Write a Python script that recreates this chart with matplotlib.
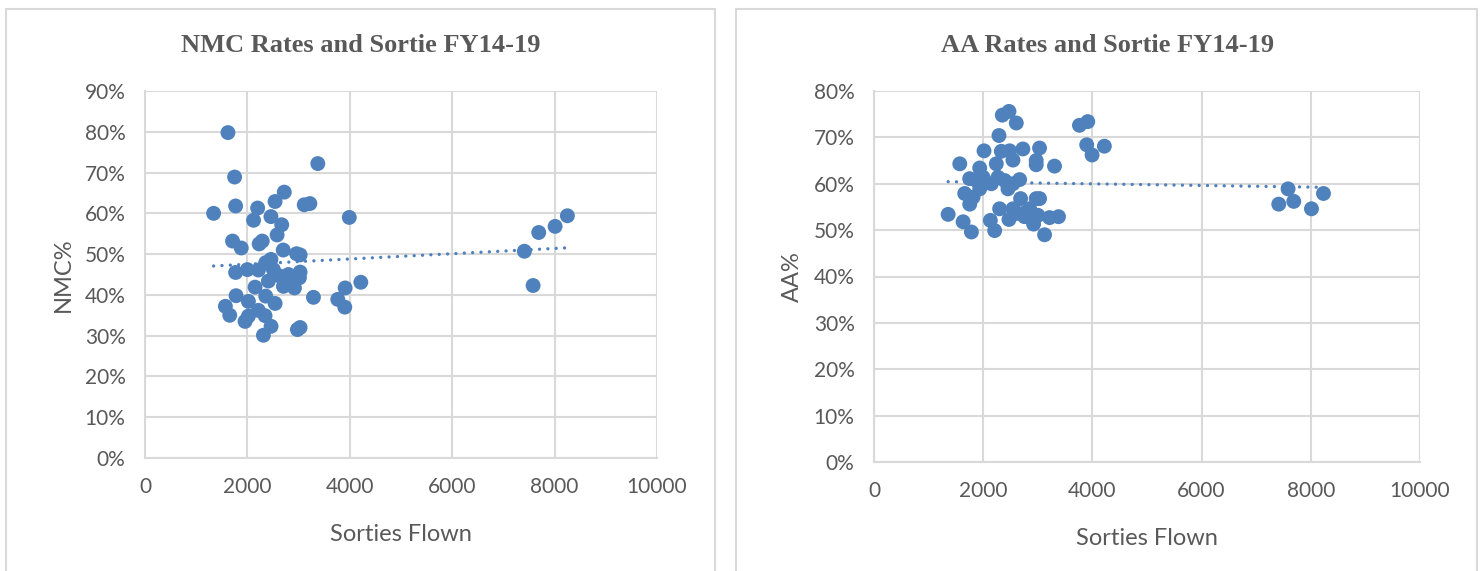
import numpy as np
import matplotlib.pyplot as plt
from matplotlib.patches import Rectangle
from matplotlib.ticker import PercentFormatter

# NMC rate vs sorties flown
nmc_sorties = [1620, 3375, 1750, 2720, 1770, 1340, 2200, 2540, 2120, 2460,
               3110, 3220, 3990, 2670, 2580, 1710, 1880, 2230, 2290, 2700,
               2960, 3030, 2460, 1770, 2000, 2215, 2358, 2508, 2638, 2801,
               3029, 3016, 2886, 2150, 2410, 2704, 2919, 1779, 2020, 2358,
               2541, 3290, 3909, 4215, 3765, 3902, 1570, 1655, 1954, 2020,
               2215, 2345, 2462, 2313, 2977, 3029,
               8250, 8010, 7690, 7410, 7580]
nmc_rate = [79.8, 72.2, 68.9, 65.2, 61.8, 60.0, 61.3, 62.9, 58.3, 59.2,
            62.1, 62.4, 59.0, 57.2, 54.7, 53.2, 51.5, 52.5, 53.2, 51.0,
            50.1, 49.8, 48.7, 45.5, 46.2, 46.1, 47.9, 46.2, 44.6, 45.0,
            45.6, 44.2, 43.4, 41.9, 43.4, 42.1, 41.7, 39.8, 38.4, 39.7,
            37.9, 39.4, 41.7, 43.1, 38.9, 37.0, 37.2, 35.0, 33.5, 34.8,
            36.2, 34.9, 32.3, 30.1, 31.5, 32.0,
            59.4, 56.8, 55.3, 50.7, 42.3]

# AA rate vs sorties flown
aa_sorties = [2350, 2472, 2606, 3763, 3915, 2289, 2015, 3032, 2727, 3896,
              4219, 3994, 2484, 2332, 2545, 2971, 2971, 1571, 2240, 3306,
              1936, 1753, 1997, 2149, 2393, 2667, 2454, 1662, 1814, 1753,
              2301, 2685, 2971, 3032, 2545, 2727, 2850, 1358, 1632, 1784,
              2131, 2210, 2472, 2606, 2758, 2923, 3002, 3215, 3379, 3124,
              1875, 2271, 2545, 1936,
              7584, 7413, 7688, 8012, 8232]
aa_rate = [74.8, 75.6, 73.1, 72.6, 73.4, 70.4, 67.1, 67.7, 67.5, 68.4,
           68.1, 66.2, 67.1, 67.0, 65.1, 65.0, 64.1, 64.3, 64.3, 63.8,
           63.4, 61.1, 61.4, 60.0, 60.7, 60.9, 58.9, 57.9, 57.1, 55.6,
           54.6, 56.8, 56.8, 56.8, 54.6, 53.6, 54.6, 53.4, 51.8, 49.6,
           52.1, 49.9, 52.3, 53.6, 52.9, 51.3, 53.2, 52.7, 52.9, 49.0,
           60.7, 61.4, 60.0, 58.9,
           58.9, 55.6, 56.2, 54.6, 57.9]

blue = '#4f81bd'
grey = '#595959'
grid_c = '#d9d9d9'
tick_font = 'Lato'

fig = plt.figure(figsize=(14.84, 5.71), dpi=100)

# panel frames (like two Excel chart boxes)
for (x0, x1) in [(6, 715), (736, 1477)]:
    fig.patches.append(Rectangle((x0 / 1484, -0.1), (x1 - x0) / 1484, 1.1 - 9 / 571,
                                 transform=fig.transFigure, fill=False,
                                 edgecolor=grid_c, linewidth=1.5))


def draw(ax, xs, ys, ymax, title, ylabel, title_x):
    xs = np.array(xs)
    ys = np.array(ys)
    ax.scatter(xs, ys, s=115, color=blue, edgecolors='none', zorder=3)
    # linear trendline
    k, b = np.polyfit(xs, ys, 1)
    tx = np.array([xs.min(), xs.max()])
    ax.plot(tx, k * tx + b, color=blue, linewidth=2.4,
            linestyle=(0, (0.01, 2.5)), dash_capstyle='round', zorder=2)

    ax.set_xlim(0, 10000)
    ax.set_ylim(0, ymax)
    ax.set_xticks(np.arange(0, 10001, 2000))
    ax.set_yticks(np.arange(0, ymax + 1, 10))
    ax.yaxis.set_major_formatter(PercentFormatter(decimals=0))
    ax.grid(True, color=grid_c, linewidth=1.5)
    ax.set_axisbelow(True)
    for sp in ['top', 'right']:
        ax.spines[sp].set_visible(False)
    ax.spines['left'].set_color(grid_c)
    ax.spines['bottom'].set_color(grid_c)
    ax.spines['left'].set_linewidth(1.5)
    ax.spines['bottom'].set_linewidth(1.5)
    ax.tick_params(length=0, labelsize=15, labelcolor=grey, pad=14)
    for lab in ax.get_xticklabels() + ax.get_yticklabels():
        lab.set_fontfamily(tick_font)
    ax.set_xlabel('Sorties Flown', fontsize=17, color=grey, family=tick_font, labelpad=19)
    ax.set_ylabel(ylabel, fontsize=17, color=grey, family=tick_font, labelpad=8)
    fig.text(title_x, 1 - 45 / 571, title, ha='center', va='center',
             fontsize=19, fontweight='bold', color=grey, family='Liberation Serif')


ax1 = fig.add_axes([145 / 1484, 1 - 458 / 571, 512 / 1484, 367 / 571])
draw(ax1, nmc_sorties, nmc_rate, 90, 'NMC Rates and Sortie FY14-19', 'NMC%', 361 / 1484)

ax2 = fig.add_axes([874 / 1484, 1 - 462 / 571, 546 / 1484, 371 / 571])
draw(ax2, aa_sorties, aa_rate, 80, 'AA Rates and Sortie FY14-19', 'AA%', 1108 / 1484)

fig.savefig('out.png', dpi=100)
